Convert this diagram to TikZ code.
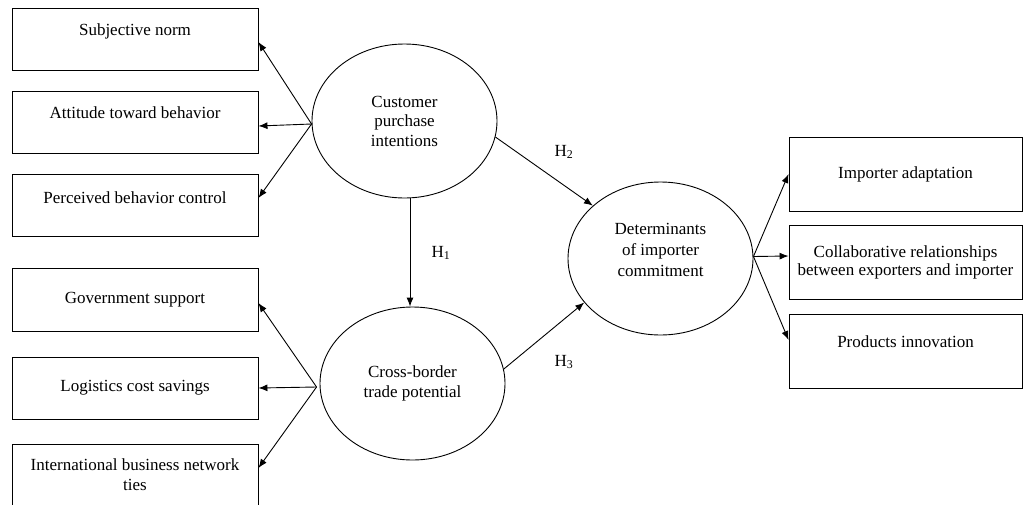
\documentclass[tikz,border=0pt]{standalone}
\usepackage{fontspec}
\setmainfont{Liberation Serif}
\usetikzlibrary{arrows.meta,shapes.geometric}
\begin{document}
\begin{tikzpicture}[x=1pt,y=-1pt,
  every node/.style={font=\fontsize{17}{19.5}\selectfont},
  lbox/.style={draw,line width=0.9pt,rectangle,minimum width=246pt,inner sep=0pt,align=center},
  rbox/.style={draw,line width=0.9pt,rectangle,minimum width=233pt,minimum height=74pt,inner sep=0pt,align=center},
  topt/.style={text height=27pt,text depth=35pt},
  oval/.style={draw,line width=0.9pt,ellipse,minimum width=185pt,minimum height=154pt,inner sep=0pt,align=center},
  arr/.style={line width=0.9pt,-{Latex[length=9pt,width=7pt]}},
  hlab/.style={inner sep=0pt}
]
\useasboundingbox (0,0) rectangle (1023,504);
% left boxes
\node[lbox,topt] (sn) at (135,39) {Subjective norm};
\node[lbox,topt] (atb) at (135,122.5) {Attitude toward behavior};
\node[lbox,text height=29pt,text depth=33pt] (pbc) at (135,205) {Perceived behavior control};
\node[lbox,minimum height=63pt] (gs) at (135,299.5) {Government support};
\node[lbox,minimum height=62pt] (lcs) at (135,388) {Logistics cost savings};
\node[lbox,text height=46pt,text depth=16pt] (ibn) at (135,475) {International business network\\ties};
% ellipses
\node[oval] (cpi) at (404.5,121) {Customer\\purchase\\intentions};
\node[oval,minimum height=153pt] (cbt) at (412.5,383.5) {Cross-border\\trade potential};
\node[oval,minimum height=153pt,text depth=18pt,font=\fontsize{17}{21}\selectfont] (det) at (660.5,258.5) {Determinants\\of importer\\commitment};
% right boxes
\node[rbox] (ia) at (905.5,174) {Importer adaptation};
\node[rbox,font=\fontsize{17}{18.5}\selectfont] (cr) at (905.5,262.5) {Collaborative relationships\\between exporters and importer};
\node[rbox,text height=33pt,text depth=41pt] (pi) at (905.5,351.5) {Products innovation};
% arrows from CPI
\coordinate (cph) at ([yshift=-3pt]cpi.west);
\draw[arr] (cph) -- ([yshift=-3pt]sn.east);
\draw[arr] (cph) -- ([yshift=-3.5pt]atb.east);
\draw[arr] (cph) -- ([yshift=7pt]pbc.east);
% arrows from CBT
\coordinate (cbh) at ([xshift=-3pt,yshift=-3.5pt]cbt.west);
\draw[arr] (cbh) -- ([yshift=-3.5pt]gs.east);
\draw[arr] (cbh) -- (lcs.east);
\draw[arr] (cbh) -- ([yshift=7pt]ibn.east);
% hypotheses
\draw[arr] ([xshift=5.5pt]cpi.south) -- ([xshift=-2.5pt]cbt.north);
\draw[arr] (cpi.-10) -- (det.142);
\draw[arr] (cbt.9) -- (det.210);
\node[hlab] (h1) at (441,253) {H\textsubscript{1}};
\node[hlab] (h2) at (564,152) {H\textsubscript{2}};
\node[hlab] (h3) at (564,362) {H\textsubscript{3}};
% arrows from determinants
\draw[arr] ([yshift=2pt]det.east) -- (ia.west);
\draw[arr] ([yshift=2pt]det.east) -- ([yshift=6.5pt]cr.west);
\draw[arr] ([yshift=2pt]det.east) -- ([yshift=11.5pt]pi.west);
\end{tikzpicture}
\end{document}
